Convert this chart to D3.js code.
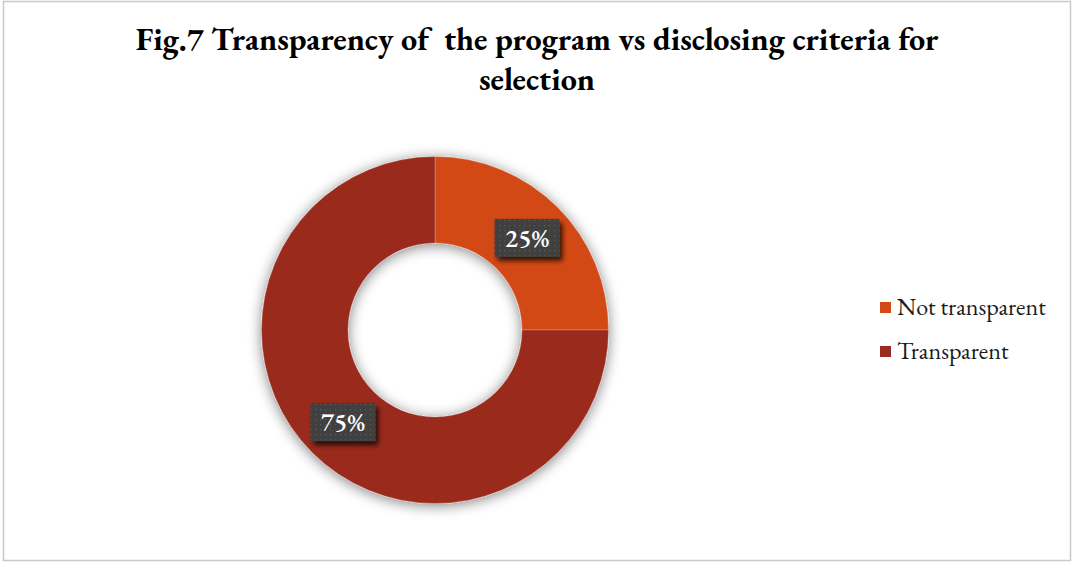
<!DOCTYPE html>
<html>
<head>
<meta charset="utf-8">
<script src="https://cdn.jsdelivr.net/npm/d3@7"></script>
<style>
  html, body { margin: 0; padding: 0; background: #ffffff; }
  svg { display: block; }
</style>
</head>
<body>
<svg id="chart" width="1072" height="562"></svg>
<script>
// Survey answers: is the program transparent about its selection criteria?
const categories = ["Not transparent", "Transparent"];
const shares = [25, 75];
const colors = ["#D24A18", "#9A2B1F"];
const titleLines = ["Fig.7 Transparency of\u00a0 the program vs disclosing criteria for", "selection"];

const W = 1072, H = 562;
const serif = "'EB Garamond', Garamond, 'Liberation Serif', 'Times New Roman', serif";
const svg = d3.select("#chart");
const defs = svg.append("defs");

// soft shadow around the ring
const ringShadow = defs.append("filter").attr("id", "ringShadow")
  .attr("x", "-20%").attr("y", "-20%").attr("width", "140%").attr("height", "140%");
ringShadow.append("feGaussianBlur").attr("in", "SourceAlpha").attr("stdDeviation", 7).attr("result", "b");
ringShadow.append("feOffset").attr("in", "b").attr("dx", 0).attr("dy", 2).attr("result", "o");
ringShadow.append("feComponentTransfer").attr("in", "o").attr("result", "s")
  .append("feFuncA").attr("type", "linear").attr("slope", 0.5);
const m1 = ringShadow.append("feMerge");
m1.append("feMergeNode").attr("in", "s");
m1.append("feMergeNode").attr("in", "SourceGraphic");

// shadow under the value callouts
const boxShadow = defs.append("filter").attr("id", "boxShadow")
  .attr("x", "-30%").attr("y", "-40%").attr("width", "160%").attr("height", "180%");
boxShadow.append("feGaussianBlur").attr("in", "SourceAlpha").attr("stdDeviation", 2.5).attr("result", "b");
boxShadow.append("feOffset").attr("in", "b").attr("dx", 3).attr("dy", 4).attr("result", "o");
boxShadow.append("feComponentTransfer").attr("in", "o").attr("result", "s")
  .append("feFuncA").attr("type", "linear").attr("slope", 0.75);
const m2 = boxShadow.append("feMerge");
m2.append("feMergeNode").attr("in", "s");
m2.append("feMergeNode").attr("in", "SourceGraphic");

// dotted dark fill for the callouts
const dots = defs.append("pattern").attr("id", "dots")
  .attr("width", 5).attr("height", 5).attr("patternUnits", "userSpaceOnUse");
dots.append("rect").attr("width", 5).attr("height", 5).attr("fill", "#3f3f3f");
dots.append("rect").attr("x", 2).attr("y", 2).attr("width", 1.3).attr("height", 1.3).attr("fill", "#5c5c5c");

// chart frame
svg.append("rect")
  .attr("x", 3.5).attr("y", 1.5).attr("width", W - 5).attr("height", H - 3)
  .attr("fill", "#ffffff").attr("stroke", "#c9c9c9").attr("stroke-width", 1.5);

// two-line title, sized to the width of its first line
const title = svg.append("text")
  .attr("text-anchor", "middle")
  .attr("font-family", serif).attr("font-weight", "bold")
  .attr("font-size", 27).attr("fill", "#000");
const lineBase = [50, 90];
const spans = title.selectAll("tspan").data(titleLines).join("tspan")
  .attr("x", W / 2 + 1)
  .attr("y", (d, i) => lineBase[i])
  .text(d => d);
const w1 = spans.nodes()[0].getComputedTextLength();
title.attr("font-size", 27 * 803 / w1);

// donut
const cx = 435, cy = 330, outerR = 173.5, innerR = 87;
const pie = d3.pie().sort(null).value(d => d)(shares);
const arc = d3.arc().innerRadius(innerR).outerRadius(outerR);
const labelArc = d3.arc().innerRadius((innerR + outerR) / 2).outerRadius((innerR + outerR) / 2);

const ring = svg.append("g").attr("transform", `translate(${cx},${cy})`);
ring.append("g").attr("filter", "url(#ringShadow)")
  .selectAll("path").data(pie).join("path")
  .attr("d", arc)
  .attr("fill", (d, i) => colors[i])
  .attr("stroke", "rgba(255,255,255,0.3)")
  .attr("stroke-width", 0.75);

// value callouts
const boxW = 65, boxH = 38;
const labels = ring.selectAll("g.lbl").data(pie).join("g")
  .attr("class", "lbl")
  .attr("transform", d => { const [x, y] = labelArc.centroid(d); return `translate(${x},${y})`; });
labels.append("rect")
  .attr("x", -boxW / 2).attr("y", -boxH / 2)
  .attr("width", boxW).attr("height", boxH)
  .attr("fill", "url(#dots)")
  .attr("filter", "url(#boxShadow)");
labels.append("text")
  .attr("text-anchor", "middle").attr("dy", "0.36em")
  .attr("font-family", serif).attr("font-size", 26).attr("font-weight", 600)
  .attr("fill", "#ffffff")
  .text(d => d.data + "%");

// legend
const legend = svg.append("g");
const rows = legend.selectAll("g").data(categories).join("g")
  .attr("transform", (d, i) => `translate(880,${302 + i * 44})`);
rows.append("rect")
  .attr("width", 11).attr("height", 11)
  .attr("fill", (d, i) => colors[i]);
const legTexts = rows.append("text")
  .attr("x", 17).attr("y", 12.5)
  .attr("font-family", serif).attr("font-size", 20)
  .attr("fill", "#1a1a1a")
  .text(d => d);
const lw = legTexts.nodes()[0].getComputedTextLength();
legTexts.attr("font-size", 20 * 149 / lw);
</script>
</body>
</html>
